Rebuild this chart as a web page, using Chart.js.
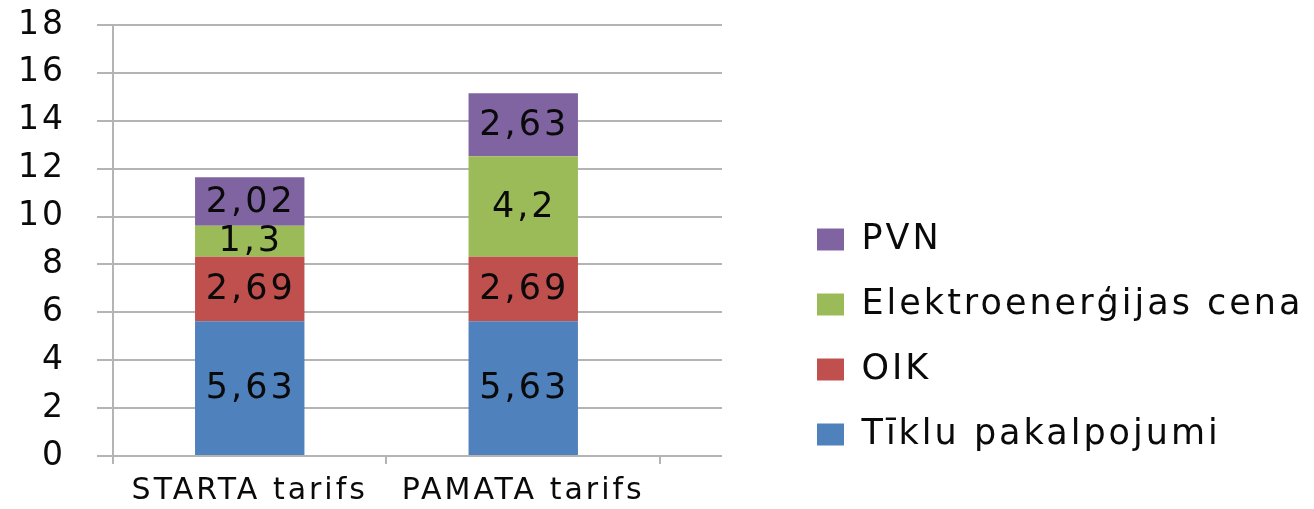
<!DOCTYPE html>
<html>
<head>
<meta charset="utf-8">
<script src="https://cdn.jsdelivr.net/npm/chart.js@4/dist/chart.umd.min.js"></script>
<style>
  html, body { margin: 0; padding: 0; background: #fff; }
</style>
</head>
<body>
<canvas id="myChart" width="1314" height="509"></canvas>
<script>
const categories = ['STARTA tarifs', 'PAMATA tarifs']
const seriesNames = ['Tīklu pakalpojumi', 'OIK', 'Elektroenerģijas cena', 'PVN']
const tikluValues = [5.63, 5.63]
const oikValues = [2.69, 2.69]
const elektroValues = [1.3, 4.2]
const pvnValues = [2.02, 2.63]
const yTicks = [0, 2, 4, 6, 8, 10, 12, 14, 16, 18]

const seriesColors = ['#4F81BD', '#C0504D', '#9BBB59', '#8064A2']
const gridColor = '#b4b4b4'
const textColor = '#0a0a0a'
const fontFamily = '"DejaVu Sans", sans-serif'
const textSpacing = '3px'
const gridOverhang = 62
const legendLeft = 817
const legendTop = 222

function setSpacing(chart) {
    chart.ctx.letterSpacing = textSpacing
}

// Excel-like stretched text
const spacingPlugin = {
    id: 'spacing',
    beforeUpdate: setSpacing,
    beforeLayout: setSpacing,
    beforeDraw: setSpacing
}

// move the legend block away from the plot, as in the original
const legendShift = {
    id: 'legendShift',
    afterLayout(chart) {
        let legend = chart.legend
        let pad = legend.options.labels.padding
        let dx = legendLeft - (legend.left + pad)
        let dy = legendTop - (legend.top + pad)
        legend.left += dx
        legend.right = chart.width
        legend.width = legend.right - legend.left
        legend.top += dy
        legend.bottom += dy
    }
}

// horizontal gridlines run past the last category
const gridExtend = {
    id: 'gridExtend',
    beforeDatasetsDraw(chart) {
        let ctx = chart.ctx
        let area = chart.chartArea
        let yScale = chart.scales.y
        ctx.save()
        ctx.strokeStyle = gridColor
        ctx.lineWidth = 2
        yScale.ticks.forEach(tick => {
            let y = Math.round(yScale.getPixelForValue(tick.value))
            ctx.beginPath()
            ctx.moveTo(area.right - 1, y)
            ctx.lineTo(area.right + gridOverhang, y)
            ctx.stroke()
        })
        ctx.restore()
    }
}

function formatValue(v) {
    return String(v).replace('.', ',')
}

const valueLabels = {
    id: 'valueLabels',
    afterDatasetsDraw(chart) {
        let ctx = chart.ctx
        ctx.save()
        ctx.font = '35px ' + fontFamily
        ctx.fillStyle = textColor
        ctx.textAlign = 'center'
        ctx.textBaseline = 'middle'
        chart.data.datasets.forEach((ds, i) => {
            chart.getDatasetMeta(i).data.forEach((bar, j) => {
                let y = (bar.y + bar.base) / 2
                ctx.fillText(formatValue(ds.data[j]), bar.x + 1, y + 1)
            })
        })
        ctx.restore()
    }
}

function makeDataset(i, values) {
    return {
        label: seriesNames[i],
        data: values,
        backgroundColor: seriesColors[i],
        borderWidth: 0,
        categoryPercentage: 1,
        barPercentage: 0.4
    }
}

let ctx = document.getElementById('myChart')
let myChart = new Chart(ctx, {
    type: 'bar',
    data: {
        labels: categories,
        datasets: [
            makeDataset(0, tikluValues),
            makeDataset(1, oikValues),
            makeDataset(2, elektroValues),
            makeDataset(3, pvnValues)
        ]
    },
    options: {
        responsive: false,
        animation: false,
        layout: {
            padding: { top: 25, left: 18, right: 440, bottom: 0 }
        },
        scales: {
            x: {
                stacked: true,
                afterFit(scale) {
                    // chart.js counts tick padding twice
                    scale.height -= scale.options.ticks.padding
                    scale.paddingLeft = 0
                    scale.paddingRight = 0
                },
                grid: {
                    offset: true,
                    drawOnChartArea: false,
                    tickLength: 8,
                    color: gridColor,
                    lineWidth: 2
                },
                border: { color: gridColor, width: 2 },
                ticks: {
                    color: textColor,
                    padding: 9,
                    font: { family: fontFamily, size: 30 }
                }
            },
            y: {
                stacked: true,
                min: yTicks[0],
                max: yTicks[yTicks.length - 1],
                afterBuildTicks(scale) {
                    scale.ticks = yTicks.map(v => ({ value: v }))
                },
                afterFit(scale) {
                    scale.width -= scale.options.ticks.padding
                    scale.paddingTop = 0
                    scale.paddingBottom = 0
                },
                grid: {
                    tickLength: 16,
                    color: gridColor,
                    lineWidth: 2
                },
                border: { color: gridColor, width: 2 },
                ticks: {
                    color: textColor,
                    padding: 31,
                    font: { family: fontFamily, size: 33 }
                }
            }
        },
        plugins: {
            tooltip: { enabled: false },
            legend: {
                position: 'right',
                align: 'start',
                reverse: true,
                labels: {
                    boxWidth: 27,
                    boxHeight: 22,
                    padding: 30,
                    color: textColor,
                    font: { family: fontFamily, size: 35 }
                }
            }
        }
    },
    plugins: [spacingPlugin, legendShift, gridExtend, valueLabels]
})
</script>
</body>
</html>
